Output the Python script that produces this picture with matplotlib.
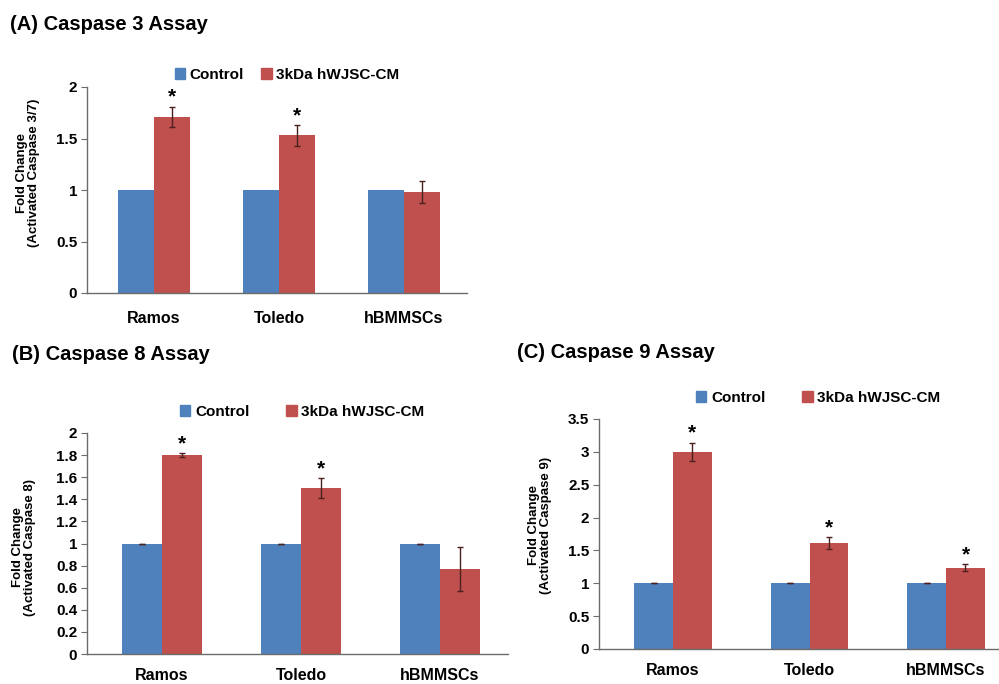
import matplotlib
matplotlib.use("Agg")
import matplotlib.pyplot as plt
from matplotlib.ticker import FormatStrFormatter, MultipleLocator
from matplotlib.patches import Patch
import numpy as np

plt.rcParams['font.family'] = ['Liberation Sans', 'DejaVu Sans']
plt.rcParams['font.weight'] = 'bold'

categories = ['Ramos', 'Toledo', 'hBMMSCs']
series_names = ['Control', '3kDa hWJSC-CM']

a_control = [1.0, 1.0, 1.0]
a_treated = [1.71, 1.53, 0.98]
a_err = [0.10, 0.10, 0.105]
a_sig = [True, True, False]

b_control = [1.0, 1.0, 1.0]
b_treated = [1.80, 1.50, 0.77]
b_err = [0.015, 0.09, 0.20]
b_sig = [True, True, False]

c_control = [1.0, 1.0, 1.0]
c_treated = [3.00, 1.61, 1.24]
c_err = [0.14, 0.09, 0.05]
c_sig = [True, True, True]

BLUE = '#4F81BD'
RED = '#C0504D'
AXC = '#6b6b6b'
ECOL = '#4a2020'

W, H = 999, 684
fig = plt.figure(figsize=(W / 100, H / 100), dpi=100)


def fr(left, top, right, bottom):
    return [left / W, 1 - bottom / H, (right - left) / W, (bottom - top) / H]


def panel(rect, xlim, ymax, ystep, ctrl, trt, err, sig, ctrl_err, xpad):
    ax = fig.add_axes(rect)
    x = np.arange(len(categories))
    bw = 0.285
    ax.bar(x - bw / 2, ctrl, bw, color=BLUE)
    ax.bar(x + bw / 2, trt, bw, color=RED)
    if ctrl_err:
        ax.errorbar(x - bw / 2, ctrl, yerr=[0] * len(ctrl), fmt='none',
                    ecolor=ECOL, elinewidth=1, capsize=2.5, capthick=1)
    ax.errorbar(x + bw / 2, trt, yerr=err, fmt='none', ecolor=ECOL,
                elinewidth=1, capsize=2.5, capthick=1)
    for xi, t, e, s in zip(x, trt, err, sig):
        if s:
            ax.annotate('*', (xi + bw / 2, t + e), xytext=(0, 0),
                        textcoords='offset points', ha='center', va='bottom',
                        fontsize=15, fontweight='bold')
    ax.set_xlim(*xlim)
    ax.set_ylim(0, ymax)
    ax.yaxis.set_major_locator(MultipleLocator(ystep))
    ax.yaxis.set_major_formatter(FormatStrFormatter('%g'))
    ax.set_xticks(x)
    ax.set_xticklabels(categories, fontsize=11.5, fontweight='bold')
    for sp in ['top', 'right']:
        ax.spines[sp].set_visible(False)
    for sp in ['left', 'bottom']:
        ax.spines[sp].set_color(AXC)
        ax.spines[sp].set_linewidth(1)
    ax.tick_params(axis='x', length=0, pad=xpad)
    ax.tick_params(axis='y', length=4, color=AXC, labelsize=11, pad=3)
    for lab in ax.get_yticklabels():
        lab.set_fontweight('bold')
    return ax


def legend(cx, cy, colsp):
    handles = [Patch(color=BLUE), Patch(color=RED)]
    fig.legend(handles, series_names, loc='center', bbox_to_anchor=(cx / W, 1 - cy / H),
               ncol=2, frameon=False, handlelength=0.7, handleheight=0.7,
               handletextpad=0.3, columnspacing=colsp,
               prop={'size': 11, 'weight': 'bold'})


# Panel A
panel(fr(87, 87, 467, 293), (-0.536, 2.504), 2, 0.5,
      a_control, a_treated, a_err, a_sig, False, 13)
legend(287, 75, 1.1)
fig.text(10 / W, 1 - 24 / H, '(A) Caspase 3 Assay', fontsize=14.5,
         fontweight='bold', va='center', ha='left')
fig.text(28 / W, 1 - 173 / H, 'Fold Change\n(Activated Caspase 3/7)', rotation=90,
         ha='center', va='center', fontsize=9.5, fontweight='bold', linespacing=1.1,
         multialignment='center')

# Panel B
panel(fr(87, 433, 508, 654), (-0.54, 2.49), 2, 0.2,
      b_control, b_treated, b_err, b_sig, True, 10)
legend(302, 412, 2.4)
fig.text(12 / W, 1 - 355 / H, '(B) Caspase 8 Assay', fontsize=14.5,
         fontweight='bold', va='center', ha='left')
fig.text(24 / W, 1 - 547 / H, 'Fold Change\n(Activated Caspase 8)', rotation=90,
         ha='center', va='center', fontsize=9.5, fontweight='bold', linespacing=1.1,
         multialignment='center')

# Panel C
panel(fr(599, 419, 999, 649), (-0.542, 2.388), 3.5, 0.5,
      c_control, c_treated, c_err, c_sig, True, 10)
legend(818, 398, 2.4)
fig.text(517 / W, 1 - 352 / H, '(C) Caspase 9 Assay', fontsize=14.5,
         fontweight='bold', va='center', ha='left')
fig.text(540 / W, 1 - 525 / H, 'Fold Change\n(Activated Caspase 9)', rotation=90,
         ha='center', va='center', fontsize=9.5, fontweight='bold', linespacing=1.1,
         multialignment='center')

fig.savefig('out.png', dpi=100)
